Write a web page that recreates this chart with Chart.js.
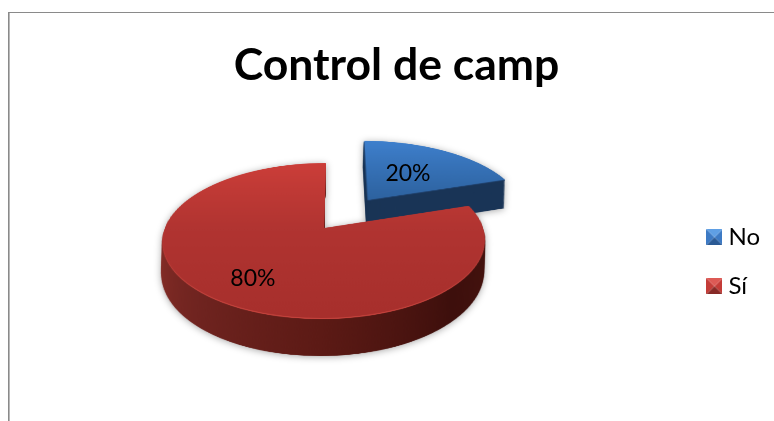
<!DOCTYPE html>
<html>
<head>
<meta charset="utf-8">
<style>html,body{margin:0;padding:0;background:#fff}canvas{display:block}</style>
<script src="https://cdn.jsdelivr.net/npm/chart.js@4"></script>
</head>
<body>
<canvas id="c" width="774" height="421"></canvas>
<script>
const categories = ['No', 'Sí'];
const values = [20, 80];
const titleText = 'Control de camp';
const baseColors = ['#2f6cb5', '#b23432'];
const explode = [156, 0];
const labelFractions = [0.53, 0.71];
const labelNudges = [[0, 0], [2, 3]];
const fontFamily = 'Lato, "Open Sans", sans-serif';

const topStops = [['#3e7fcc', '#2d629f'], ['#cc3e39', '#b13431', '#a72f2c']];
const sideStops = [
  [[0, '#1a3557'], [0.5, '#16304f'], [1, '#1a3557']],
  [[0, '#47140f'], [0.12, '#3d0f0c'], [0.25, '#5c1a15'], [0.375, '#702420'], [0.5, '#8a2f28'], [0.75, '#5a1a15'], [1, '#47140f']]
];
const rimColors = ['#20426e', '#c4423c'];
const iconFaces = [
  {top: '#5f9fe4', side: '#3d7ac4', bottom: '#2b5a95'},
  {top: '#dd5a55', side: '#c43c38', bottom: '#872a27'}
];

/* camera of the 3D view */
const view = {cx: 324, y0: 228, sx: 159, a: 75.5, b: 0.161, depth: 32, shear: -0.03, S: 3};

function bevelIcon(f) {
  const n = 16, cv = document.createElement('canvas');
  cv.width = n; cv.height = n;
  const g = cv.getContext('2d'), m = n / 2;
  const tri = (c, p) => {
    g.fillStyle = c; g.beginPath(); g.moveTo(m, m);
    g.lineTo(p[0], p[1]); g.lineTo(p[2], p[3]); g.closePath(); g.fill();
  };
  tri(f.side, [0, 0, 0, n]);
  tri(f.side, [n, 0, n, n]);
  tri(f.top, [0, 0, n, 0]);
  tri(f.bottom, [0, n, n, n]);
  return cv;
}

const pie3d = {
  id: 'pie3d',
  beforeDraw(chart) {
    const c = chart.ctx;
    c.save();
    c.fillStyle = '#fff';
    c.fillRect(0, 0, chart.width, chart.height);
    c.fillStyle = '#8a8a8a';
    c.fillRect(8, 12, chart.width - 8, 1);
    c.fillRect(8, 12, 1.6, chart.height - 12);
    c.restore();
  },
  beforeDatasetsDraw(chart) {
    const arcs = chart.getDatasetMeta(0).data;
    const R = arcs[1].outerRadius, S = view.S;
    const OW = Math.ceil(R * S * 5), OH = Math.ceil(R * S * 5);
    const comp = document.createElement('canvas');
    comp.width = chart.width; comp.height = chart.height;
    const cc = comp.getContext('2d');
    cc.imageSmoothingQuality = 'high';

    const flat = (el, paint) => {
      const o = document.createElement('canvas');
      o.width = OW; o.height = OH;
      const g = o.getContext('2d');
      g.setTransform(S, 0, 0, S, OW / 2 - S * el.x, OH / 2 - S * el.y);
      el.draw(g);
      g.setTransform(1, 0, 0, 1, 0, 0);
      g.globalCompositeOperation = 'source-atop';
      g.fillStyle = paint(g);
      g.fillRect(0, 0, OW, OH);
      return o;
    };

    const project = (img, D) => {
      const {cx, y0, sx, a, b, shear} = view;
      const w = (y) => (y - y0 - D) / (a + b * (y - y0));
      for (let y = 110; y < 375; y++) {
        const w1 = w(y), w2 = w(y + 1), wm = (w1 + w2) / 2;
        const sy = OH / 2 + w1 * R * S, sh = (w2 - w1) * R * S;
        if (sy < 0 || sy + sh > OH) continue;
        const f = 1 / (1 - b * wm);
        const dw = OW * sx / (R * S) * f;
        const xc = cx + shear * (y - y0);
        cc.drawImage(img, 0, sy, OW, sh, xc - dw / 2, y, dw, 1);
      }
    };

    arcs.forEach((el, i) => {
      const mid = (el.startAngle + el.endAngle) / 2;
      const shift = (el.options.offset || 0) / 4;
      const ox = OW / 2 + Math.cos(mid) * shift * S;
      const oy = OH / 2 + Math.sin(mid) * shift * S;
      const side = flat(el, (g) => {
        const cg = g.createConicGradient(0, ox, oy);
        sideStops[i].forEach((s) => cg.addColorStop(s[0], s[1]));
        return cg;
      });
      const rim = flat(el, () => rimColors[i]);
      const top = flat(el, (g) => {
        const lg = g.createLinearGradient(0, oy - R * S, 0, i === 0 ? oy : oy + R * S);
        topStops[i].forEach((c, k, all) => lg.addColorStop(k / (all.length - 1), c));
        return lg;
      });
      for (let D = view.depth; D >= 1; D -= 1) project(side, D);
      project(rim, 1);
      project(top, 0);
    });

    const c = chart.ctx;
    c.save();
    c.shadowColor = 'rgba(0,0,0,0.33)';
    c.shadowBlur = 7;
    c.shadowOffsetY = 1;
    c.drawImage(comp, 0, 0);
    c.restore();

    const total = values.reduce((p, q) => p + q, 0);
    c.save();
    c.fillStyle = '#000';
    c.font = '23px ' + fontFamily;
    c.textAlign = 'center';
    c.textBaseline = 'middle';
    arcs.forEach((el, i) => {
      const mid = (el.startAngle + el.endAngle) / 2;
      const shift = (el.options.offset || 0) / 4;
      const u = Math.cos(mid) * (shift + labelFractions[i] * R) / R;
      const w = Math.sin(mid) * (shift + labelFractions[i] * R) / R;
      const f = 1 / (1 - view.b * w);
      const px = view.cx + view.sx * u * f + labelNudges[i][0];
      const py = view.y0 + view.a * w * f + labelNudges[i][1];
      c.fillText(Math.round(values[i] / total * 100) + '%', px, py);
    });
    c.restore();
    return false;
  }
};

new Chart(document.getElementById('c'), {
  type: 'pie',
  data: {
    labels: categories,
    datasets: [{data: values, backgroundColor: baseColors, borderWidth: 0, offset: explode}]
  },
  plugins: [pie3d],
  options: {
    responsive: false,
    animation: false,
    events: [],
    radius: 80,
    layout: {padding: {left: 23, right: 4, top: 0, bottom: 0}},
    plugins: {
      tooltip: {enabled: false},
      title: {
        display: true,
        text: titleText,
        color: '#000',
        font: {family: fontFamily, size: 44.5, weight: 'bold'},
        padding: {top: 39, bottom: 10}
      },
      legend: {
        display: true,
        position: 'right',
        fullSize: false,
        labels: {
          color: '#000',
          font: {family: fontFamily, size: 24},
          padding: 25,
          usePointStyle: true,
          pointStyleWidth: 4,
          generateLabels: () => categories.map((t, i) => ({
            text: t, pointStyle: bevelIcon(iconFaces[i]), datasetIndex: 0, index: i,
            fillStyle: baseColors[i], lineWidth: 0
          }))
        }
      }
    }
  }
});
</script>
</body>
</html>
